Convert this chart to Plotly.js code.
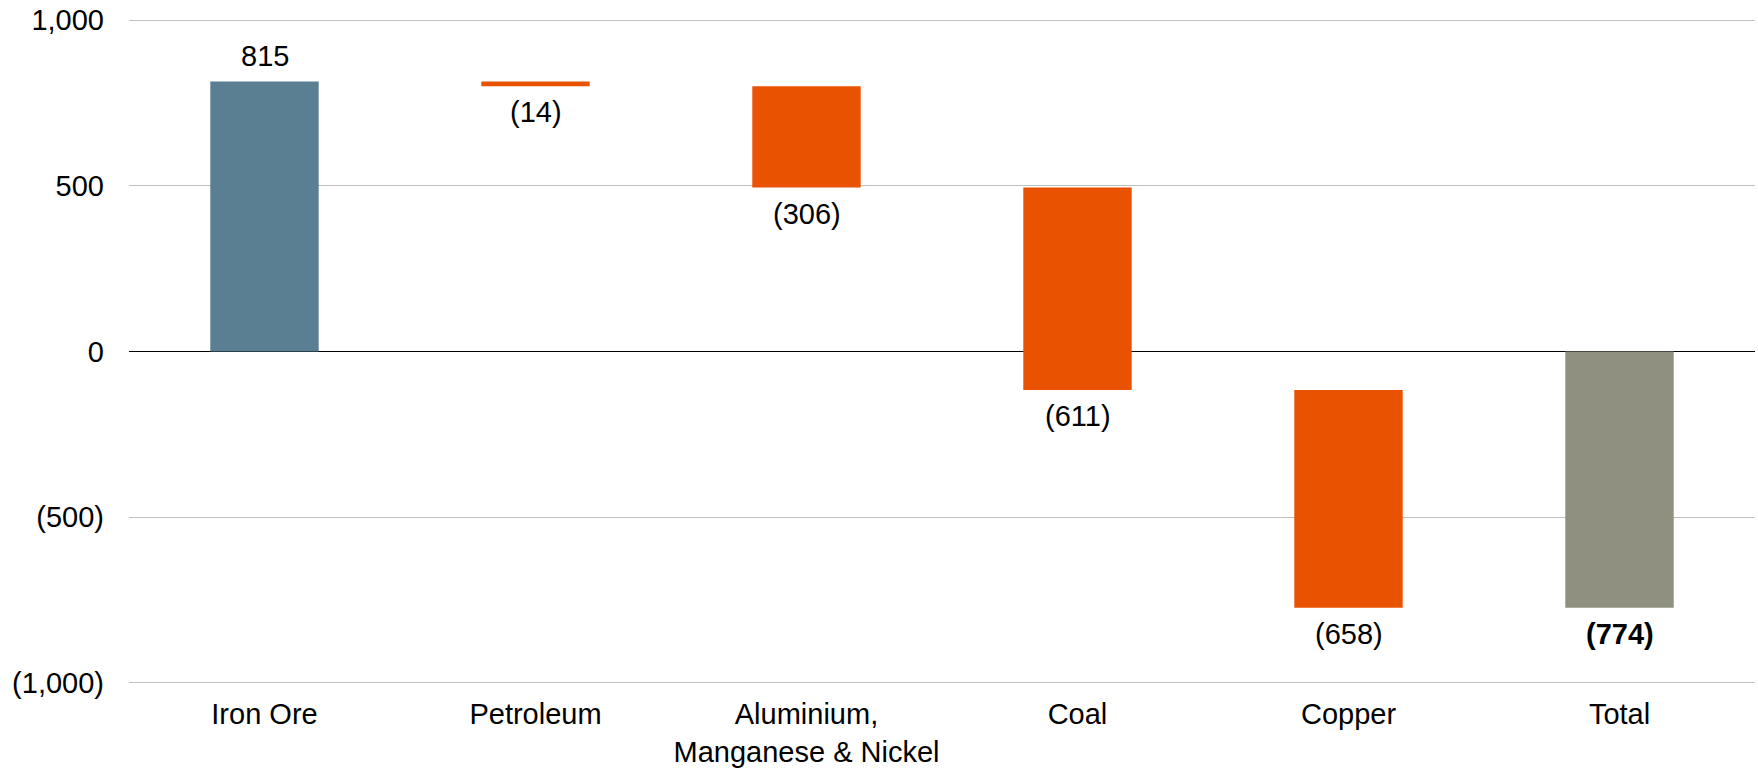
<!DOCTYPE html>
<html>
<head>
<meta charset="utf-8">
<script src="https://cdn.plot.ly/plotly-3.0.1.min.js"></script>
<style>html,body{margin:0;padding:0;background:#fff;}#chart{width:1758px;height:769px;}</style>
</head>
<body>
<div id="chart"></div>
<script>
const categories = ["Iron Ore", "Petroleum", "Aluminium,<br>Manganese & Nickel", "Coal", "Copper", "Total"];
const values = [815, -14, -306, -611, -658, -774];
const measures = ["relative", "relative", "relative", "relative", "relative", "total"];
const yTickVals = [1000, 500, 0, -500, -1000];
const yTickText = ["1,000", "500", "0", "(500)", "(1,000)"];

const FONT = "Liberation Sans, Arial, sans-serif";
const FS = 29;

function fmt(v) {
  const s = Math.abs(v).toLocaleString("en-US");
  return v < 0 ? "(" + s + ")" : s;
}

// label annotations placed at the bar ends computed from the data
const annotations = [];
let cum = 0;
values.forEach((v, i) => {
  const isTotal = measures[i] === "total";
  let end;
  if (isTotal) { end = v; } else { cum += v; end = cum; }
  const positive = v >= 0;
  annotations.push({
    x: categories[i], y: end, xref: "x", yref: "y",
    text: isTotal ? "<b>" + fmt(v) + "</b>" : fmt(v),
    showarrow: false, yanchor: "middle",
    yshift: positive ? 26 : -26,
    font: {family: FONT, size: FS, color: "#000"}
  });
});

const trace = {
  type: "waterfall",
  x: categories,
  y: values,
  measure: measures,
  width: 0.4,
  connector: {visible: false},
  increasing: {marker: {color: "#5b7f92"}},
  decreasing: {marker: {color: "#e85200"}},
  totals: {marker: {color: "#8f9080"}},
  textposition: "none",
  hoverinfo: "x+y"
};

const layout = {
  width: 1758, height: 769,
  margin: {l: 129, r: 3, t: 17, b: 83},
  paper_bgcolor: "#fff", plot_bgcolor: "#fff",
  showlegend: false,
  font: {family: FONT, size: FS, color: "#000"},
  xaxis: {
    type: "category",
    showgrid: false, showline: false, zeroline: false,
    ticks: "", ticklabelstandoff: 8,
    tickfont: {size: FS, color: "#000"}
  },
  yaxis: {
    range: [-1010, 1010],
    tickvals: yTickVals, ticktext: yTickText,
    showgrid: true, gridcolor: "#c0c0b8", gridwidth: 1,
    zeroline: true, zerolinecolor: "#000", zerolinewidth: 1,
    showline: false, ticks: "",
    ticklabelstandoff: 24,
    tickfont: {size: FS, color: "#000"}
  },
  annotations: annotations
};

Plotly.newPlot("chart", [trace], layout, {displayModeBar: false, staticPlot: true});
</script>
</body>
</html>
